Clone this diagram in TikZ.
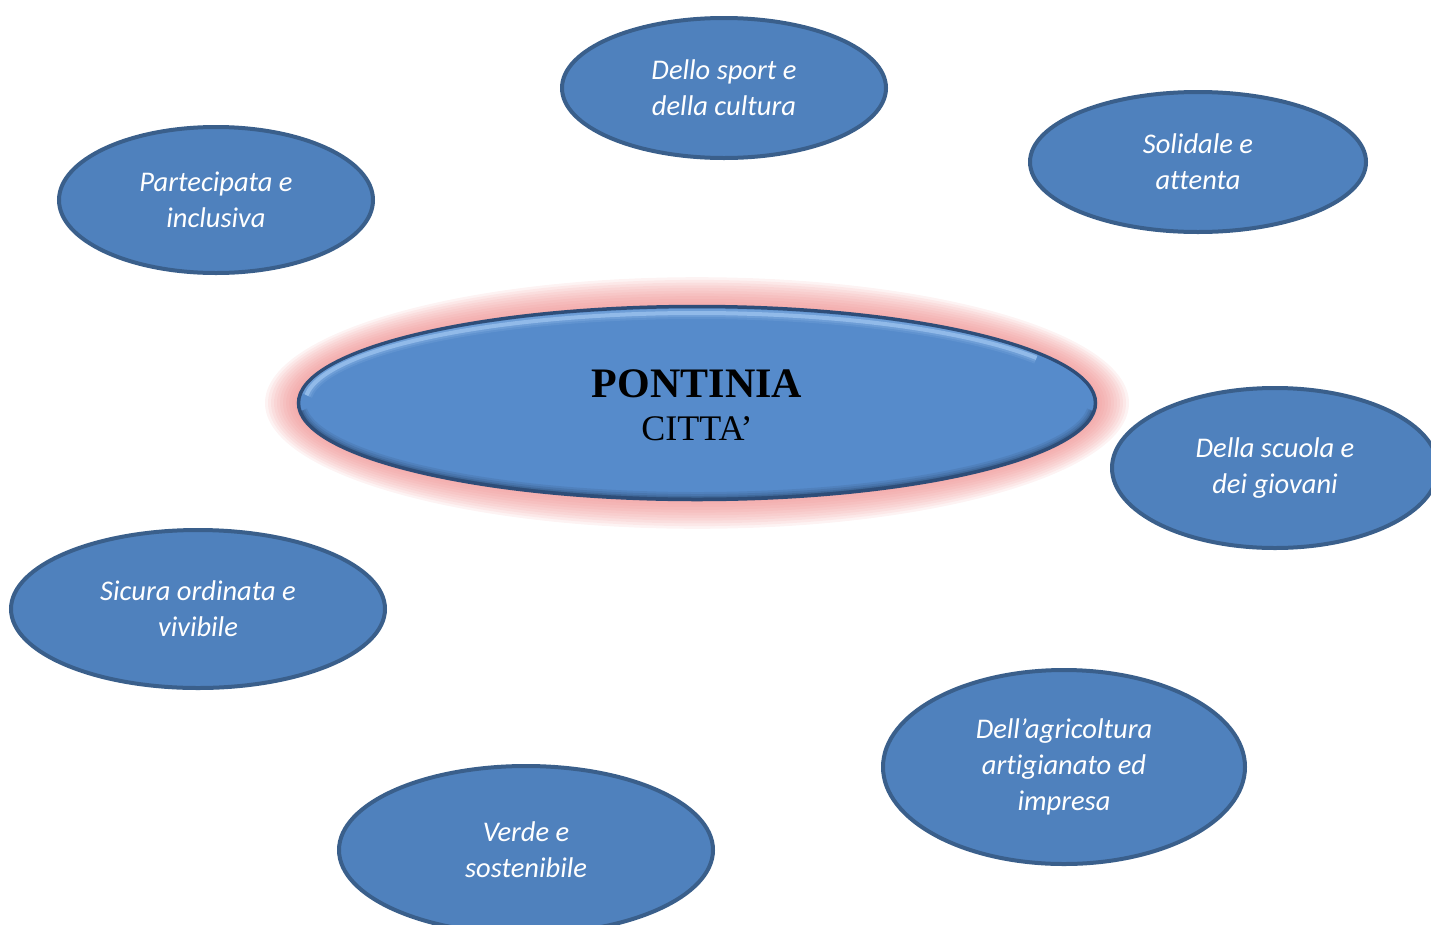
\documentclass[tikz,border=0pt]{standalone}
\usepackage{fontspec}
\setmainfont{Liberation Serif}
\newfontfamily\hubfont{Liberation Serif}
\newfontfamily\calib[Ligatures=NoCommon]{Carlito}
\usetikzlibrary{shapes.geometric}
\definecolor{topicfill}{HTML}{4F81BD}
\definecolor{topicline}{HTML}{3A5F8B}
\definecolor{hubfill}{HTML}{568BCB}
\definecolor{hubline}{HTML}{2E4D78}
\definecolor{hublight}{HTML}{A9CDF5}
\definecolor{glowpink}{HTML}{EE8888}
\tikzset{
  topic/.style={ellipse, fill=topicfill, draw=topicline, line width=4pt,
    inner sep=0pt, align=center, text=white,
    font=\calib\itshape\fontsize{28.5}{36}\selectfont},
}
\begin{document}
\begin{tikzpicture}[x=1pt,y=-1pt]
\useasboundingbox (0,0) rectangle (1431,924);
\clip (0,0) rectangle (1431,924);

% soft pink glow around the central ellipse
\foreach \g in {32,29,...,2}{
  \fill[glowpink, opacity=0.10] (697,403) ellipse ({400+\g} and {97+0.9*\g});
}

% central ellipse with bevelled rim
\node[ellipse, fill=hubfill, draw=hubline, line width=2.5pt, inner sep=0pt,
      minimum width=798pt, minimum height=194pt] (hub) at (697,403) {};
\begin{scope}
  \clip (697,403) ellipse (398 and 96);
  % dark rim along the lower edge
  \foreach \w/\o in {14/0.10,10/0.12,6/0.18,3/0.25}{
    \draw[hubline!60!black, line width=\w pt, opacity=\o]
      (697,403) ++(5:398 and 96) arc[start angle=5, end angle=175, x radius=398, y radius=96];
  }
  % light rim along the upper edge
  \foreach \w/\o in {12/0.12,8/0.2,4/0.6}{
    \draw[hublight, line width=\w pt, opacity=\o]
      (697,403) ++(185:392 and 90) arc[start angle=185, end angle=330, x radius=392, y radius=90];
  }
\end{scope}
\draw[hubline, line width=2.5pt] (697,403) ellipse (398 and 96);
\node[align=center, inner sep=0pt, font=\hubfont\fontsize{36}{43}\selectfont]
  (hubtext) at (697,405)
  {{\fontsize{42}{43}\selectfont\bfseries PONTINIA}\\CITTA’};

% surrounding topics
\node[topic, minimum width=324pt, minimum height=140pt] (sport) at (724,88)
  {Dello sport e\\della cultura};
\node[topic, minimum width=336pt, minimum height=140pt] (solid) at (1198,162)
  {Solidale e\\attenta};
\node[topic, minimum width=314pt, minimum height=146pt] (partec) at (216,200)
  {Partecipata e\\inclusiva};
\node[topic, minimum width=326pt, minimum height=160pt] (scuola) at (1275,468)
  {Della scuola e\\dei giovani};
\node[topic, minimum width=374pt, minimum height=158pt] (sicura) at (198,609)
  {Sicura ordinata e\\vivibile};
\node[topic, minimum width=362pt, minimum height=194pt] (agri) at (1064,767)
  {Dell’agricoltura\\artigianato ed\\impresa};
\node[topic, minimum width=374pt, minimum height=168pt] (verde) at (526,850)
  {Verde e\\sostenibile};
\end{tikzpicture}
\end{document}
